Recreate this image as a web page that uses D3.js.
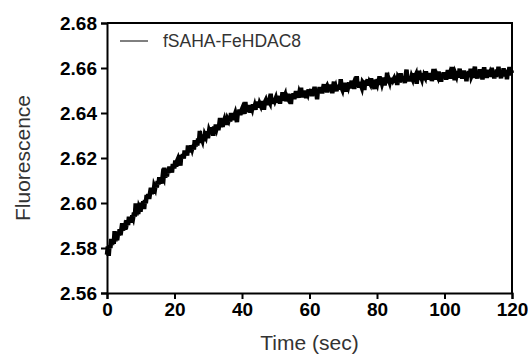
<!DOCTYPE html>
<html>
<head>
<meta charset="utf-8">
<script src="https://cdn.jsdelivr.net/npm/d3@7"></script>
<style>
  body { margin: 0; background: #fff; }
  text { font-family: "Liberation Sans", Arial, sans-serif; }
</style>
</head>
<body>
<div id="chart"></div>
<script>
// Sampling of the trace (seconds)
const timeStart = 0;
const timeStep = 0.25;

// Fluorescence readings, one row per 5 s
const fluorescence = [
  2.5770,2.5807,2.5765,2.5813,2.5800,2.5840,2.5814,2.5839,2.5818,2.5875,2.5831,2.5850,2.5834,2.5866,2.5856,2.5883,2.5857,2.5882,2.5910,2.5877,
  2.5899,2.5881,2.5905,2.5901,2.5923,2.5902,2.5939,2.5915,2.5930,2.5913,2.5945,2.5935,2.5957,2.5940,2.5998,2.5946,2.5965,2.5951,2.5979,2.5970,
  2.5970,2.6001,2.5986,2.6007,2.5973,2.6013,2.5999,2.6036,2.6020,2.6039,2.6018,2.6044,2.6067,2.6040,2.6057,2.6042,2.6074,2.6065,2.6089,2.6069,
  2.6098,2.6082,2.6114,2.6086,2.6106,2.6087,2.6120,2.6112,2.6157,2.6113,2.6134,2.6118,2.6147,2.6134,2.6162,2.6140,2.6155,2.6135,2.6174,2.6162,
  2.6162,2.6189,2.6162,2.6186,2.6195,2.6178,2.6196,2.6166,2.6214,2.6198,2.6217,2.6198,2.6233,2.6215,2.6230,2.6211,2.6256,2.6225,2.6242,2.6229,
  2.6256,2.6242,2.6256,2.6238,2.6279,2.6252,2.6272,2.6256,2.6287,2.6271,2.6320,2.6267,2.6289,2.6279,2.6304,2.6275,2.6303,2.6295,2.6319,2.6297,
  2.6297,2.6321,2.6311,2.6337,2.6309,2.6325,2.6299,2.6340,2.6323,2.6348,2.6333,2.6347,2.6324,2.6348,2.6378,2.6338,2.6357,2.6339,2.6358,2.6369,
  2.6351,2.6376,2.6347,2.6373,2.6366,2.6381,2.6362,2.6400,2.6373,2.6388,2.6368,2.6388,2.6399,2.6382,2.6360,2.6403,2.6392,2.6415,2.6391,2.6408,
  2.6417,2.6399,2.6413,2.6396,2.6449,2.6407,2.6423,2.6405,2.6420,2.6435,2.6401,2.6429,2.6419,2.6438,2.6417,2.6430,2.6414,2.6451,2.6426,2.6442,
  2.6424,2.6442,2.6434,2.6453,2.6423,2.6450,2.6414,2.6447,2.6455,2.6438,2.6465,2.6436,2.6452,2.6445,2.6486,2.6443,2.6460,2.6441,2.6466,2.6455,
  2.6465,2.6446,2.6476,2.6457,2.6470,2.6441,2.6468,2.6456,2.6492,2.6456,2.6470,2.6479,2.6452,2.6475,2.6468,2.6485,2.6463,2.6476,2.6440,2.6484,
  2.6469,2.6487,2.6462,2.6480,2.6497,2.6471,2.6485,2.6468,2.6489,2.6479,2.6513,2.6469,2.6490,2.6476,2.6499,2.6481,2.6467,2.6497,2.6487,2.6504,
  2.6480,2.6495,2.6505,2.6475,2.6500,2.6489,2.6517,2.6484,2.6498,2.6461,2.6507,2.6492,2.6515,2.6497,2.6511,2.6487,2.6507,2.6528,2.6496,2.6507,
  2.6514,2.6492,2.6510,2.6500,2.6526,2.6505,2.6520,2.6488,2.6516,2.6539,2.6503,2.6514,2.6497,2.6525,2.6509,2.6523,2.6504,2.6550,2.6513,2.6504,
  2.6524,2.6510,2.6534,2.6516,2.6495,2.6531,2.6519,2.6535,2.6510,2.6528,2.6543,2.6517,2.6527,2.6507,2.6534,2.6520,2.6564,2.6517,2.6531,2.6513,
  2.6539,2.6523,2.6513,2.6537,2.6532,2.6502,2.6545,2.6523,2.6538,2.6549,2.6522,2.6537,2.6530,2.6555,2.6521,2.6542,2.6529,2.6506,2.6548,2.6538,
  2.6529,2.6551,2.6535,2.6563,2.6525,2.6546,2.6531,2.6544,2.6557,2.6522,2.6550,2.6539,2.6579,2.6533,2.6549,2.6538,2.6557,2.6529,2.6555,2.6545,
  2.6552,2.6535,2.6566,2.6542,2.6525,2.6558,2.6552,2.6535,2.6577,2.6547,2.6562,2.6542,2.6554,2.6533,2.6567,2.6593,2.6546,2.6560,2.6541,2.6563,
  2.6545,2.6562,2.6553,2.6577,2.6540,2.6561,2.6569,2.6530,2.6566,2.6553,2.6588,2.6548,2.6562,2.6552,2.6576,2.6546,2.6566,2.6559,2.6586,2.6553,
  2.6568,2.6549,2.6578,2.6559,2.6572,2.6542,2.6565,2.6596,2.6556,2.6576,2.6549,2.6569,2.6561,2.6584,2.6554,2.6572,2.6539,2.6575,2.6561,2.6580,
  2.6559,2.6577,2.6548,2.6570,2.6591,2.6558,2.6570,2.6553,2.6575,2.6605,2.6562,2.6581,2.6546,2.6574,2.6565,2.6585,2.6558,2.6570,2.6597,2.6557,
  2.6578,2.6553,2.6574,2.6589,2.6562,2.6572,2.6541,2.6582,2.6566,2.6586,2.6559,2.6597,2.6565,2.6574,2.6557,2.6581,2.6606,2.6562,2.6577,2.6553,
  2.6585,2.6566,2.6594,2.6560,2.6576,2.6549,2.6581,2.6603,2.6570,2.6584,2.6556,2.6579,2.6591,2.6564,2.6575,2.6561,2.6601,2.6569,2.6583,2.6554,
  2.6581,2.6560,2.6593,2.6569,2.6606,2.6564,2.6578,2.6554,2.6589,2.6568,2.6599,2.6563,2.6580,2.6591,2.6550,2.6585,2.6572,2.6604,2.6567,2.6588,
  2.6577
];

const xTicks = [0, 20, 40, 60, 80, 100, 120];
const yTicks = [2.56, 2.58, 2.60, 2.62, 2.64, 2.66, 2.68];
const seriesName = "fSAHA-FeHDAC8";

const W = 528, H = 355;
const margin = { top: 23, right: 16, bottom: 62, left: 107 };
const width = W - margin.left - margin.right;
const height = H - margin.top - margin.bottom;

const data = fluorescence.map((v, i) => ({ t: timeStart + i * timeStep, v: v }));

const svg = d3.select("#chart").append("svg")
    .attr("width", W)
    .attr("height", H);

const g = svg.append("g")
    .attr("transform", `translate(${margin.left},${margin.top})`);

const x = d3.scaleLinear().domain([0, 120]).range([0, width]);
const y = d3.scaleLinear().domain([2.56, 2.68]).range([height, 0]);

const line = d3.line().x(d => x(d.t)).y(d => y(d.v));

// trace: dense noisy band
g.append("path")
    .datum(data)
    .attr("fill", "none")
    .attr("stroke", "#000")
    .attr("stroke-width", 4.5)
    .attr("stroke-linejoin", "miter")
    .attr("d", line);

// frame (top + right)
g.append("path")
    .attr("d", `M0,0H${width}V${height}`)
    .attr("fill", "none")
    .attr("stroke", "#000")
    .attr("stroke-width", 2);

// axes
const xAxis = g.append("g")
    .attr("transform", `translate(0,${height})`)
    .call(d3.axisBottom(x).tickValues(xTicks).tickSize(6).tickPadding(4).tickFormat(d3.format("d")));
const yAxis = g.append("g")
    .call(d3.axisLeft(y).tickValues(yTicks).tickSize(6).tickPadding(4).tickFormat(d3.format(".2f")));

[xAxis, yAxis].forEach(a => {
    a.select(".domain").attr("stroke-width", 2).attr("stroke", "#000");
    a.selectAll(".tick line").attr("stroke-width", 2).attr("stroke", "#000");
    a.selectAll(".tick text")
        .attr("fill", "#000")
        .style("font-family", "'Liberation Sans', Arial, sans-serif")
        .style("font-size", "19px")
        .style("font-weight", "bold");
});

// axis titles
svg.append("text")
    .attr("x", margin.left + width / 2)
    .attr("y", 350)
    .attr("text-anchor", "middle")
    .attr("fill", "#333")
    .style("font-size", "21px")
    .text("Time (sec)");

svg.append("text")
    .attr("transform", `translate(30,${margin.top + height / 2}) rotate(-90)`)
    .attr("text-anchor", "middle")
    .attr("fill", "#333")
    .style("font-size", "21px")
    .text("Fluorescence");

// legend
svg.append("line")
    .attr("x1", 120).attr("x2", 148)
    .attr("y1", 41).attr("y2", 41)
    .attr("stroke", "#000")
    .attr("stroke-width", 1);
svg.append("text")
    .attr("x", 163)
    .attr("y", 47)
    .attr("fill", "#333")
    .style("font-size", "17.5px")
    .text(seriesName);
</script>
</body>
</html>
